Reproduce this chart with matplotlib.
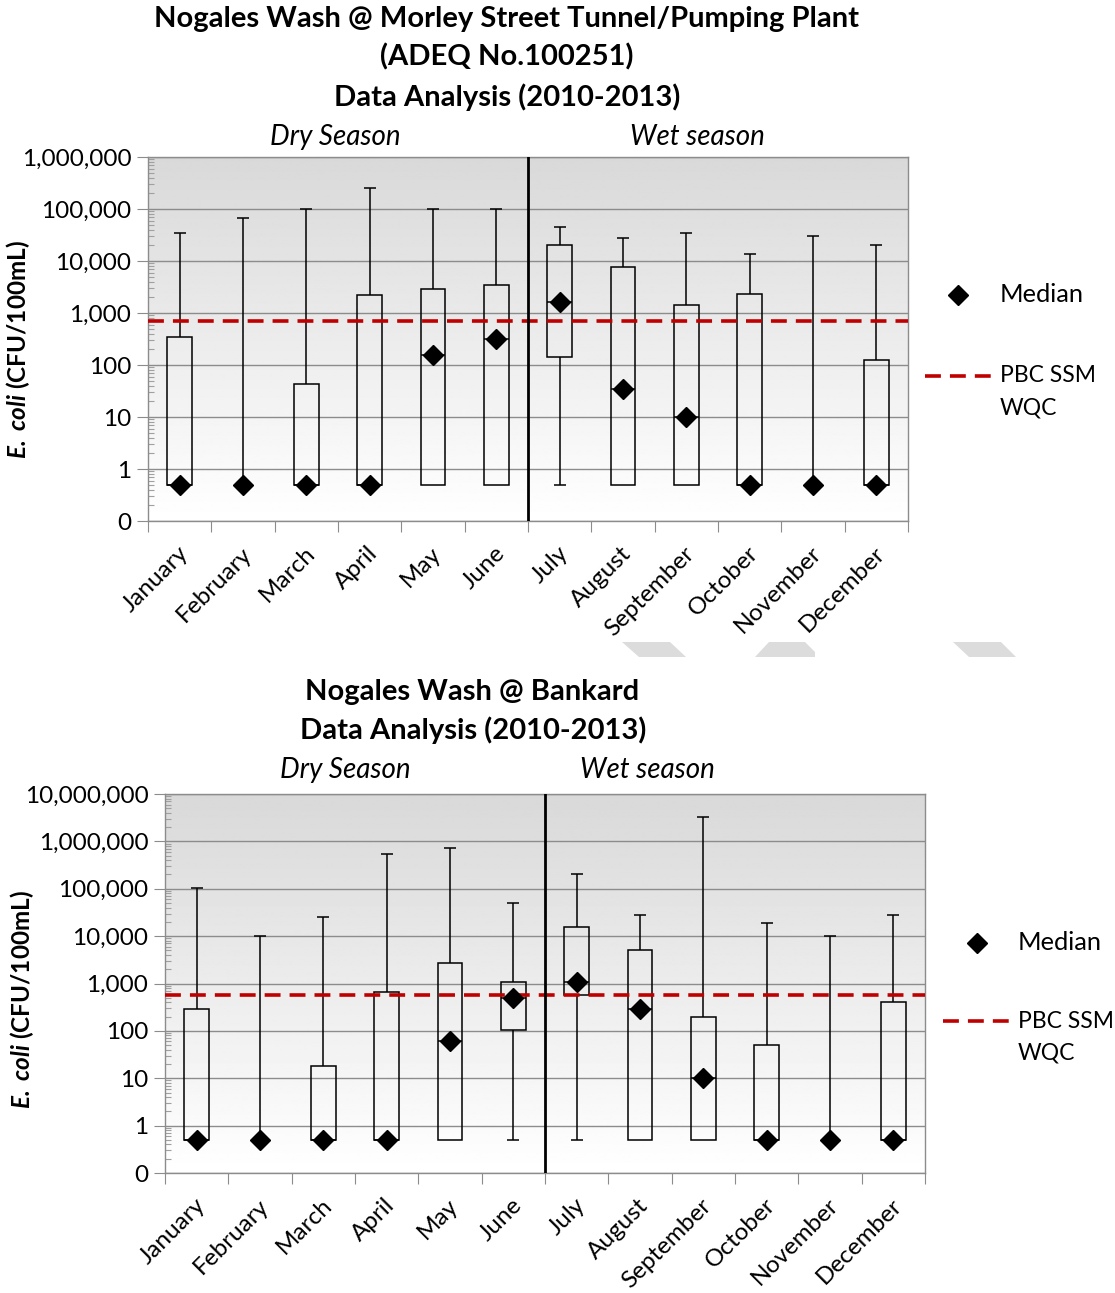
import numpy as np
import matplotlib
matplotlib.use("Agg")
import matplotlib.pyplot as plt
from matplotlib.lines import Line2D
from matplotlib.patches import Polygon
from matplotlib.ticker import FixedLocator, LogLocator, NullFormatter
import matplotlib.transforms as mtransforms

plt.rcParams['font.family'] = ['Lato', 'DejaVu Sans']
plt.rcParams['mathtext.fontset'] = 'custom'
plt.rcParams['mathtext.bfit'] = 'Lato:italic:bold'
plt.rcParams['mathtext.it'] = 'Lato:italic'
plt.rcParams['mathtext.bf'] = 'Lato:bold'
plt.rcParams['mathtext.rm'] = 'Lato'

months = ["January", "February", "March", "April", "May", "June",
          "July", "August", "September", "October", "November", "December"]

# Panel 1: Morley Street Tunnel/Pumping Plant
p1_min = [0.5, 0.5, 0.5, 0.5, 0.5, 0.5, 0.5, 0.5, 0.5, 0.5, 0.5, 0.5]
p1_q1 = [0.5, 0.5, 0.5, 0.5, 0.5, 0.5, 142, 0.5, 0.5, 0.5, 0.5, 0.5]
p1_median = [0.5, 0.5, 0.5, 0.5, 155, 310, 1600, 34, 10, 0.5, 0.5, 0.5]
p1_q3 = [350, 0.5, 43, 2200, 2900, 3400, 20000, 7600, 1400, 2300, 0.5, 126]
p1_max = [34000, 68000, 100000, 250000, 100000, 100000, 46000, 28000, 35000, 13500, 30000, 20000]
p1_wqc = 700

# Panel 2: Bankard
p2_min = [0.5, 0.5, 0.5, 0.5, 0.5, 0.5, 0.5, 0.5, 0.5, 0.5, 0.5, 0.5]
p2_q1 = [0.5, 0.5, 0.5, 0.5, 0.5, 105, 570, 0.5, 0.5, 0.5, 0.5, 0.5]
p2_median = [0.5, 0.5, 0.5, 0.5, 62, 500, 1050, 290, 10, 0.5, 0.5, 0.5]
p2_q3 = [290, 0.5, 18, 660, 2750, 1060, 15500, 5000, 200, 50, 0.5, 400]
p2_max = [105000, 10000, 25000, 540000, 740000, 49000, 200000, 28500, 3250000, 18500, 10000, 28500]
p2_wqc = 570

p1_ticks = [0.1, 1, 10, 100, 1000, 10000, 100000, 1000000]
p1_ticklabels = ["0", "1", "10", "100", "1,000", "10,000", "100,000", "1,000,000"]
p2_ticks = [0.1, 1, 10, 100, 1000, 10000, 100000, 1000000, 10000000]
p2_ticklabels = ["0", "1", "10", "100", "1,000", "10,000", "100,000", "1,000,000", "10,000,000"]

W, H = 1115, 1293
fig = plt.figure(figsize=(W / 100, H / 100), dpi=100)

RED = '#c00000'
GRID = '#8c8c8c'
FS = 17.5
TFS = 21
SFS = 20
LFS = 18.3
LFS2 = 16.5


def fx(px):
    return px / W


def fy(py):
    return 1 - py / H


def panel(rect, q1, med, q3, mn, mx, wqc, ticks, ticklabels, ylim):
    bg = fig.add_axes(rect, zorder=0)
    grad = np.linspace(0.85, 1.0, 256).reshape(-1, 1)
    bg.imshow(grad, aspect='auto', cmap='gray', vmin=0, vmax=1, interpolation='bilinear')
    bg.axis('off')
    ax = fig.add_axes(rect, zorder=1)
    ax.set_facecolor('none')
    ax.set_yscale('log')
    ax.set_ylim(*ylim)
    n = len(months)
    ax.set_xlim(-0.5, n - 0.5)
    x = np.arange(n)
    q1 = np.array(q1, float); q3 = np.array(q3, float)
    med = np.array(med, float); mn = np.array(mn, float); mx = np.array(mx, float)
    bw = 0.39
    cw = 0.19
    has_box = q3 > q1
    ax.bar(x[has_box], (q3 - q1)[has_box], bottom=q1[has_box], width=bw,
           fill=False, edgecolor='black', linewidth=1.1, zorder=3)
    ax.hlines(med[has_box], x[has_box] - bw / 2, x[has_box] + bw / 2,
              color='black', lw=1.1, zorder=3)
    ax.vlines(x, q3, mx, color='black', lw=1.1, zorder=3)
    ax.hlines(mx, x - cw / 2, x + cw / 2, color='black', lw=1.1, zorder=3)
    low = mn < q1
    ax.vlines(x[low], mn[low], q1[low], color='black', lw=1.1, zorder=3)
    ax.hlines(mn[low], x[low] - cw / 2, x[low] + cw / 2, color='black', lw=1.1, zorder=3)
    ax.plot(x, med, linestyle='none', marker='D', ms=10.5, color='black', zorder=5)
    ax.axhline(wqc, color=RED, lw=2.6, ls=(0, (4.4, 2.5)), zorder=4)
    ax.axvline(5.5, color='black', lw=2.0, zorder=4)

    ax.yaxis.set_major_locator(FixedLocator(ticks))
    ax.set_yticklabels(ticklabels)
    ax.yaxis.set_minor_locator(LogLocator(base=10, subs=np.arange(2, 10), numticks=50))
    ax.yaxis.set_minor_formatter(NullFormatter())
    ax.tick_params(axis='y', which='major', direction='out', length=8, color=GRID,
                   labelsize=FS, pad=4)
    ax.tick_params(axis='y', which='minor', direction='in', length=4, color='#a0a0a0', width=0.8)
    ax.grid(axis='y', which='major', color=GRID, lw=1)
    ax.set_axisbelow(True)

    ax.set_xticks(np.arange(-0.5, n, 1.0))
    ax.set_xticklabels([])
    ax.tick_params(axis='x', which='major', direction='out', length=8, color=GRID)
    ax.set_xticks(x, minor=True)
    ax.set_xticklabels(months, minor=True, rotation=45, ha='right', va='center',
                       rotation_mode='anchor', fontsize=FS)
    ax.tick_params(axis='x', which='minor', length=0, pad=21)
    off = mtransforms.ScaledTranslation(5 / 100, 0, fig.dpi_scale_trans)
    for lab in ax.get_xticklabels(minor=True):
        lab.set_transform(lab.get_transform() + off)
    for s in ax.spines.values():
        s.set_color(GRID)
        s.set_linewidth(1)
    return ax


ax1 = panel([fx(148), fy(521), 760 / W, 364 / H], p1_q1, p1_median, p1_q3, p1_min, p1_max,
            p1_wqc, p1_ticks, p1_ticklabels, (0.1, 1e6))
ax2 = panel([fx(165), fy(1173), 760 / W, 379 / H], p2_q1, p2_median, p2_q3, p2_min, p2_max,
            p2_wqc, p2_ticks, p2_ticklabels, (0.1, 1e7))

# Titles
fig.text(fx(507), fy(19), "Nogales Wash @ Morley Street Tunnel/Pumping Plant",
         ha='center', va='center', fontsize=TFS, fontweight='bold')
fig.text(fx(507), fy(57), "(ADEQ No.100251)", ha='center', va='center', fontsize=TFS, fontweight='bold')
fig.text(fx(507), fy(97), "Data Analysis (2010-2013)", ha='center', va='center', fontsize=TFS, fontweight='bold')
fig.text(fx(472), fy(692), "Nogales Wash @ Bankard", ha='center', va='center', fontsize=TFS, fontweight='bold')
fig.text(fx(473), fy(730), "Data Analysis (2010-2013)", ha='center', va='center', fontsize=TFS, fontweight='bold')

# Season labels
fig.text(fx(335), fy(137), "Dry Season", ha='center', va='center', fontsize=SFS, style='italic')
fig.text(fx(697), fy(137), "Wet season", ha='center', va='center', fontsize=SFS, style='italic')
fig.text(fx(345), fy(770), "Dry Season", ha='center', va='center', fontsize=SFS, style='italic')
fig.text(fx(647), fy(770), "Wet season", ha='center', va='center', fontsize=SFS, style='italic')

# Y labels
ylab = r"$\mathbfit{E.\ coli}$ (CFU/100mL)"
fig.text(fx(18), fy(350), ylab, rotation=90, ha='center', va='center', fontsize=FS, fontweight='bold')
fig.text(fx(22), fy(1000), ylab, rotation=90, ha='center', va='center', fontsize=FS, fontweight='bold')

# Legends
for (dx, dy, lx0, lx1, ly, tx) in [(958, 295, 925, 992, 376, 1000), (977, 943, 943, 1010, 1021, 1018)]:
    fig.add_artist(Line2D([fx(dx)], [fy(dy)], marker='D', ms=10.5, color='black',
                          linestyle='none', transform=fig.transFigure))
    fig.add_artist(Line2D([fx(lx0), fx(lx1)], [fy(ly), fy(ly)], color=RED, lw=2.6,
                          ls=(0, (4.4, 2.5)), transform=fig.transFigure))
    fig.text(fx(tx), fy(dy), "Median", ha='left', va='center', fontsize=LFS)
    fig.text(fx(tx), fy(ly), "PBC SSM", ha='left', va='center', fontsize=LFS2)
    fig.text(fx(tx), fy(ly + 32), "WQC", ha='left', va='center', fontsize=LFS2)

# light grey decorative shapes between panels
shapes = [
    [(622, 642), (670, 642), (686, 657), (639, 657)],
    [(769, 642), (805, 642), (815, 652), (815, 657), (755, 657)],
    [(953, 642), (1001, 642), (1016, 657), (969, 657)],
]
for shp in shapes:
    fig.add_artist(Polygon([(fx(a), fy(b)) for a, b in shp], closed=True,
                           facecolor='#dcdcdc', edgecolor='none', transform=fig.transFigure))

fig.savefig("out.png", dpi=100)
